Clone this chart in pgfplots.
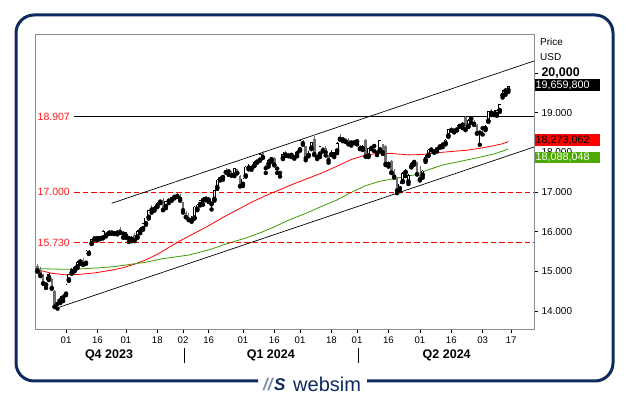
\documentclass[border=0pt]{standalone}
\usepackage{fontspec}
\setmainfont{Liberation Sans}
\usepackage{pgfplots}
\usepackage{pgfplotstable}
\pgfplotsset{compat=1.18}
\definecolor{navy}{HTML}{0D2B5E}
\definecolor{dngray}{HTML}{6E6E6E}
\definecolor{magreen}{HTML}{3C9C00}
\definecolor{boxgreen}{HTML}{4CAA00}
\definecolor{framegray}{HTML}{8C8C96}
\definecolor{lblred}{HTML}{FF1A1A}

\pgfplotstableread{
i o h l c
-7 14650 14850 14580 14790
-6 14840 14960 14780 14930
-2 14250 14380 14200 14340
-1 14330 14420 14250 14410
0 14420 14690 14400 14665
1 14780 14930 14760 14920
2 14960 15080 14940 15050
3 15020 15130 15000 15110
4 15110 15250 15080 15230
5 15230 15300 15190 15260
7 15200 15530 15190 15520
8 15450 15550 15440 15480
9 15700 15820 15690 15810
11 15820 15880 15780 15860
13 15840 16030 15830 16020
15 15950 16050 15940 15990
18 15960 16040 15930 16010
21 15890 16000 15840 15990
23 15800 15900 15760 15870
25 15860 16040 15840 16020
26 16000 16110 15960 16085
27 16070 16230 16050 16220
28 16200 16360 16170 16350
29 16360 16550 16330 16540
31 16560 16650 16530 16620
32 16640 16760 16620 16730
33 16740 16790 16720 16780
35 16630 16780 16590 16770
37 16790 16880 16780 16870
38 16860 16910 16840 16900
44 16270 16400 16250 16310
45 16340 16640 16330 16630
46 16560 16700 16540 16680
47 16680 16810 16660 16790
48 16780 16880 16680 16830
50 16790 16870 16750 16830
51 16690 16760 16560 16740
52 16810 17050 16780 17040
53 17110 17320 17080 17310
55 17360 17430 17310 17420
59 17430 17600 17400 17600
62 17190 17350 17150 17340
63 17400 17660 17390 17640
64 17600 17700 17570 17640
66 17660 17780 17650 17760
67 17750 17800 17740 17780
68 17800 17990 17790 17960
71 17700 17820 17640 17800
72 17810 17870 17760 17840
76 17850 18000 17830 17960
79 17920 17980 17880 17960
81 17960 18060 17900 18040
82 18060 18310 18040 18300
85 17920 18030 17900 17980
86 18100 18260 18080 18250
89 17950 18160 17880 18150
93 17940 18060 17930 17990
94 17930 18020 17880 18010
95 18030 18250 17980 18240
97 18310 18370 18280 18340
100 18230 18290 18170 18280
102 18260 18330 18200 18290
104 18080 18190 18060 18160
106 17910 18120 17880 18100
110 18060 18320 18020 18300
117 17080 17280 17020 17210
118 17260 17500 17250 17470
119 17490 17570 17400 17530
120 17250 17450 17200 17430
121 17630 17760 17620 17720
122 17740 17810 17690 17780
125 17420 17550 17360 17540
126 17800 17940 17760 17890
127 17920 18080 17910 18070
129 18000 18080 17990 18060
130 18060 18120 18020 18110
131 18130 18220 18110 18160
133 18220 18330 18200 18320
134 18410 18600 18390 18590
137 18560 18700 18550 18670
138 18650 18720 18640 18710
141 18650 18830 18640 18810
142 18840 18900 18740 18890
145 18480 18540 18190 18540
147 18590 18690 18560 18660
148 18780 19050 18770 19040
150 18960 19060 18940 18990
151 18950 19080 18920 19070
152 19050 19220 19020 19210
153 19430 19560 19380 19490
154 19540 19630 19450 19600
155 19560 19670 19520 19660
}\upc

\pgfplotstableread{
i o h l c
-10 15130 15180 14990 15020
-9 15040 15120 14880 14910
-8 14900 14920 14690 14700
-5 14800 14820 14560 14580
-4 14500 14520 14100 14110
-3 14230 14290 14060 14180
6 15280 15340 15160 15180
10 15850 15900 15800 15830
12 15880 15900 15810 15840
14 15960 15990 15880 15920
16 16000 16010 15950 15980
17 15990 16020 15940 15960
19 16060 16120 15970 15990
20 16000 16010 15850 15950
22 15880 15900 15740 15840
24 15920 15960 15760 15780
30 16600 16660 16480 16560
34 16800 16840 16540 16550
36 16800 16850 16720 16780
39 16930 16970 16880 16900
40 16900 16940 16780 16825
41 16750 16760 16480 16540
42 16480 16530 16360 16370
43 16380 16470 16290 16300
49 16860 16890 16790 16830
54 17360 17410 17290 17330
56 17540 17610 17490 17500
57 17550 17580 17430 17520
58 17490 17530 17410 17420
60 17580 17590 17470 17480
61 17400 17440 17140 17150
65 17650 17670 17560 17600
69 17980 18040 17860 17880
70 17680 17690 17480 17600
73 17850 17870 17670 17690
74 17620 17640 17480 17590
75 17530 17540 17390 17480
77 18000 18040 17910 17940
78 17950 17990 17900 17920
80 17910 17930 17840 17870
83 18290 18320 18190 18230
84 18150 18160 17800 17850
87 18330 18420 17930 17960
88 17920 17950 17830 17880
90 18130 18140 18020 18050
91 18120 18160 17920 18000
92 17900 17930 17740 17800
96 18380 18460 18320 18340
98 18310 18350 18260 18280
99 18320 18350 18200 18210
101 18280 18310 18230 18250
103 18170 18190 18080 18100
105 18300 18340 17890 17900
107 18140 18160 18080 18110
108 18190 18210 18030 18160
109 18040 18060 17930 17990
111 18200 18220 17960 18000
112 18150 18180 17680 17710
113 17760 17790 17640 17700
114 17770 17800 17480 17490
115 17540 17590 17360 17390
116 17340 17370 16970 17040
123 17730 17750 17440 17450
124 17440 17660 17290 17320
128 18100 18140 18050 18070
132 18210 18260 18130 18190
135 18600 18640 18550 18560
136 18580 18590 18500 18550
139 18740 18750 18610 18700
140 18880 18910 18560 18580
143 18760 18810 18690 18720
144 18700 18710 18470 18480
146 18640 18670 18450 18610
149 19040 19100 18940 19000
}\dnc

\begin{document}
\begin{tikzpicture}
\useasboundingbox (0,0) rectangle (629pt,396pt);
\begin{axis}[
  at={(35pt,67pt)}, anchor=south west,
  scale only axis, width=499pt, height=295pt,
  xmin=-10.87, xmax=164, ymin=13546, ymax=20983,
  scaled y ticks=false, scaled x ticks=false,
  axis line style={framegray, line width=0.8pt},
  xtick={0,11,21,32,41,50,62,73,82,93,102,113,124,135,146,156},
  xticklabels={01,16,01,18,02,16,01,16,01,18,01,16,01,16,03,17},
  ytick={14000,15000,16000,17000,18000,19000,20000},
  yticklabels={14.000,15.000,16.000,17.000,18.000,19.000,{\fontsize{12.5}{14}\selectfont\bfseries 20,000}},
  xtick pos=left, ytick pos=right, yticklabel pos=right,
  tick align=outside, major tick length=4pt,
  tick style={black, line width=0.6pt},
  xticklabel style={font=\fontsize{9.6}{11}\selectfont, text=black},
  yticklabel style={font=\fontsize{10}{12}\selectfont, text=black},
]
\addplot[red, line width=0.8pt] coordinates {
(-10.8,15055) (-5,14950) (0,14910) (5,14925) (10,14960) (16,15030) (20,15090) (24,15180)
(28,15290) (32,15430) (36,15600) (40,15770) (45,15960) (50,16150) (55,16360) (60,16550)
(65,16740) (70,16910) (75,17060) (80,17210) (85,17350) (90,17490) (95,17650) (100,17820)
(105,17930) (110,17980) (115,17965) (120,17935) (125,17945) (130,17990) (135,18020)
(140,18050) (145,18100) (150,18170) (153,18215) (155,18273)};
\addplot[magreen, line width=0.8pt] coordinates {
(-10.8,15070) (0,15050) (5,15060) (12,15090) (17,15120) (24,15190) (28,15230) (34,15320)
(43,15410) (50,15540) (57,15710) (63,15840) (68,15970) (73,16120) (78,16290) (84,16460)
(89,16620) (95,16800) (100,16990) (105,17160) (110,17270) (116,17350) (122,17430)
(127,17560) (132,17680) (138,17770) (144,17860) (150,17960) (153,18030) (155,18088)};
\addplot[black, line width=0.9pt] coordinates {(2.8,18907) (164,18907)};
\addplot[red, line width=0.9pt, dash pattern=on 5.5pt off 3pt] coordinates {(2.8,17000) (164,17000)};
\addplot[red, line width=0.9pt, dash pattern=on 5.5pt off 3pt] coordinates {(2.8,15730) (164,15730)};
\addplot[black, line width=0.7pt] coordinates {(-3.15,14076) (164,18134)};
\addplot[black, line width=0.7pt] coordinates {(16,16715) (164,20302)};
% wicks
\addplot[only marks, mark=none, error bars/.cd, y dir=plus, y explicit, error mark=none,
  error bar style={line width=0.6pt, draw=dngray}]
  table[x=i, y=l, y error plus expr=\thisrow{h}-\thisrow{l}] {\dnc};
\addplot[only marks, mark=none, error bars/.cd, y dir=plus, y explicit, error mark=none,
  error bar style={line width=0.6pt, draw=black}]
  table[x=i, y=l, y error plus expr=\thisrow{h}-\thisrow{l}] {\upc};
% bodies
\addplot[only marks, mark=none, error bars/.cd, y dir=plus, y explicit, error mark=none,
  error bar style={line width=2.5pt, draw=dngray}]
  table[x=i, y=c, y error plus expr=\thisrow{o}-\thisrow{c}] {\dnc};
\addplot[only marks, mark=none, error bars/.cd, y dir=plus, y explicit, error mark=none,
  error bar style={line width=2.9pt, draw=black}]
  table[x=i, y=o, y error plus expr=\thisrow{c}-\thisrow{o}] {\upc};
\addplot[only marks, mark=none, error bars/.cd, y dir=plus, y explicit, error mark=none,
  error bar style={line width=1.5pt, draw=white}]
  table[x=i, y expr=\thisrow{o}+18, y error plus expr={max(\thisrow{c}-\thisrow{o}-36,0)}] {\upc};
\end{axis}
% left level labels
\node[anchor=west, inner sep=0pt, text=lblred, font=\fontsize{10.5}{12}\selectfont] at (37.5pt,279.5pt) {18.907};
\node[anchor=west, inner sep=0pt, text=lblred, font=\fontsize{10.5}{12}\selectfont] at (37.5pt,204pt) {17.000};
\node[anchor=west, inner sep=0pt, text=lblred, font=\fontsize{10.5}{12}\selectfont] at (37.5pt,153.6pt) {15.730};
% right labels
\node[anchor=west, inner sep=0pt, font=\fontsize{10}{12}\selectfont] at (540pt,354.5pt) {Price};
\node[anchor=west, inner sep=0pt, font=\fontsize{10}{12}\selectfont] at (540pt,339pt) {USD};
\fill[black] (534.5pt,305pt) rectangle (600pt,316.7pt);
\node[anchor=west, inner sep=0pt, text=white, font=\fontsize{10.8}{12}\selectfont] at (535.5pt,310.8pt) {19,659,800};
\fill[red] (534.5pt,250pt) rectangle (600pt,261.7pt);
\node[anchor=west, inner sep=0pt, text=black, font=\fontsize{10.8}{12}\selectfont] at (535.5pt,255.8pt) {18,273,062};
\fill[boxgreen] (534.5pt,233.3pt) rectangle (600pt,244.3pt);
\node[anchor=west, inner sep=0pt, text=white, font=\fontsize{10.8}{12}\selectfont] at (535.5pt,238.8pt) {18,088,048};
% quarter labels
\node[font=\fontsize{12.5}{14}\selectfont\bfseries, inner sep=0pt] at (109pt,41pt) {Q4 2023};
\node[font=\fontsize{12.5}{14}\selectfont\bfseries, inner sep=0pt] at (270.8pt,41pt) {Q1 2024};
\node[font=\fontsize{12.5}{14}\selectfont\bfseries, inner sep=0pt] at (446.7pt,41pt) {Q2 2024};
\draw[black, line width=0.9pt] (184.3pt,48pt) -- (184.3pt,33pt);
\draw[black, line width=0.9pt] (358.3pt,48pt) -- (358.3pt,33pt);
% outer frame
\draw[navy, line width=3pt, rounded corners=18pt] (258pt,15pt) -- (16pt,15pt) -- (16pt,381pt) -- (613pt,381pt) -- (613pt,15pt) -- (367pt,15pt);
% logo
\node[anchor=base west, inner sep=0pt, text=navy!55, font=\fontsize{17}{17}\selectfont\bfseries\itshape] at (263pt,5pt) {//};
\node[anchor=base west, inner sep=0pt, text=navy, font=\fontsize{17}{17}\selectfont\bfseries\itshape] at (274pt,5pt) {S};
\node[anchor=base west, inner sep=0pt, text=navy, font=\fontsize{20}{20}\selectfont] at (293pt,4.8pt) {websim};
\end{tikzpicture}
\end{document}
